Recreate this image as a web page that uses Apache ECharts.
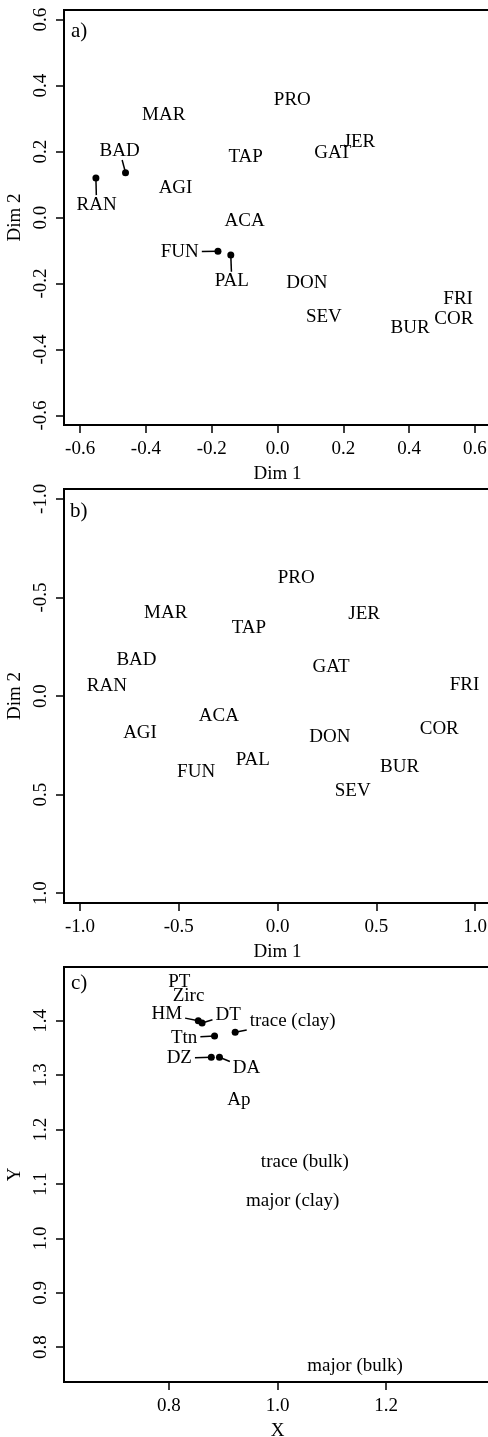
<!DOCTYPE html>
<html>
<head>
<meta charset="utf-8">
<script src="https://cdn.jsdelivr.net/npm/echarts@6/dist/echarts.min.js"></script>
<style>
  html, body { margin: 0; padding: 0; background: #fff; }
  #chart { width: 488px; height: 1437px; }
</style>
</head>
<body>
<div id="chart"></div>
<script>
// panel a) - points, labels moved away from the dot get lab x/y (null = label sits on the point)
const aNames = ['MAR', 'PRO', 'BAD', 'RAN', 'TAP', 'GAT', 'JER', 'AGI', 'ACA', 'FUN', 'PAL', 'DON', 'SEV', 'BUR', 'COR', 'FRI']
const aX = [-0.346, 0.045, -0.462, -0.552, -0.097, 0.168, 0.249, -0.310, -0.100, -0.181, -0.142, 0.089, 0.141, 0.403, 0.536, 0.549]
const aY = [0.312, 0.355, 0.136, 0.120, 0.182, 0.194, 0.228, 0.088, -0.011, -0.102, -0.114, -0.198, -0.301, -0.334, -0.307, -0.248]
const aLabX = [null, null, -0.480, -0.550, null, null, null, null, null, -0.297, -0.139, null, null, null, null, null]
const aLabY = [null, null, 0.203, 0.039, null, null, null, null, null, -0.104, -0.193, null, null, null, null, null]
const aTicks = [-0.6, -0.4, -0.2, 0, 0.2, 0.4, 0.6]

// panel b)
const bNames = ['PRO', 'MAR', 'JER', 'TAP', 'BAD', 'GAT', 'RAN', 'FRI', 'ACA', 'AGI', 'COR', 'DON', 'PAL', 'BUR', 'FUN', 'SEV']
const bX = [0.095, -0.566, 0.439, -0.145, -0.714, 0.271, -0.864, 0.947, -0.297, -0.696, 0.819, 0.265, -0.125, 0.618, -0.412, 0.381]
const bY = [-0.600, -0.419, -0.414, -0.343, -0.183, -0.149, -0.051, -0.056, 0.099, 0.186, 0.169, 0.206, 0.325, 0.358, 0.384, 0.482]
const bLabX = bNames.map(() => null)
const bLabY = bNames.map(() => null)
const bTicks = [-1, -0.5, 0, 0.5, 1]

// panel c)
const cNames = ['PT', 'Zirc', 'HM', 'DT', 'trace (clay)', 'Ttn', 'DZ', 'DA', 'Ap', 'trace (bulk)', 'major (clay)', 'major (bulk)']
const cX = [0.819, 0.836, 0.854, 0.861, 0.922, 0.884, 0.878, 0.893, 0.929, 1.0505, 1.028, 1.143]
const cY = [1.472, 1.446, 1.400, 1.396, 1.379, 1.372, 1.333, 1.333, 1.255, 1.140, 1.069, 0.766]
const cLabX = [null, null, 0.796, 0.909, 1.028, 0.828, 0.819, 0.943, null, null, null, null]
const cLabY = [null, null, 1.412, 1.411, 1.400, 1.369, 1.331, 1.313, null, null, null, null]
const cXTicks = [0.8, 1.0, 1.2]
const cYTicks = [0.8, 0.9, 1.0, 1.1, 1.2, 1.3, 1.4]

const FONT = '"Liberation Serif", "Times New Roman", serif'
const FS = 19
const ctx = document.createElement('canvas').getContext('2d')
ctx.font = FS + 'px ' + FONT

function xAxis(gi, min, max, ticks, name) {
  return {
    type: 'value', gridIndex: gi, min, max, name,
    nameLocation: 'middle', nameGap: 40,
    nameTextStyle: { fontFamily: FONT, fontSize: FS, color: '#000' },
    axisLine: { show: true, onZero: false, lineStyle: { color: '#000', width: 2 } },
    axisTick: { show: true, customValues: ticks, length: 8, lineStyle: { color: '#000', width: 1.5 } },
    axisLabel: { customValues: ticks, formatter: v => v.toFixed(1), margin: 15, fontFamily: FONT, fontSize: FS, color: '#000' },
    splitLine: { show: false },
  }
}

function yAxis(gi, min, max, ticks, name, inverse) {
  return {
    type: 'value', gridIndex: gi, min, max, name, inverse: !!inverse,
    nameLocation: 'middle', nameGap: 33,
    nameTextStyle: { fontFamily: FONT, fontSize: FS, color: '#000' },
    axisLine: { show: true, onZero: false, lineStyle: { color: '#000', width: 2 } },
    axisTick: { show: true, customValues: ticks, length: 8, lineStyle: { color: '#000', width: 1.5 } },
    axisLabel: { customValues: ticks, formatter: v => v.toFixed(1), rotate: 90, margin: 13, fontFamily: FONT, fontSize: FS, color: '#000' },
    splitLine: { show: false },
  }
}

function textStyle(t) {
  return { text: t, fill: '#000', font: FS + 'px ' + FONT, align: 'center', verticalAlign: 'middle' }
}

// text labels, with a dot + leader line when the label was moved off its point
function labelSeries(gi, names, xs, ys, lxs, lys) {
  return {
    type: 'custom', xAxisIndex: gi, yAxisIndex: gi, clip: false, silent: true,
    data: xs.map((x, i) => [x, ys[i]]),
    renderItem(params, api) {
      const i = params.dataIndex
      const p = api.coord([xs[i], ys[i]])
      if (lxs[i] == null)
        return { type: 'text', x: p[0], y: p[1], style: textStyle(names[i]) }
      const l = api.coord([lxs[i], lys[i]])
      const hw = ctx.measureText(names[i]).width / 2 + 3
      const hh = 9.5
      const dx = p[0] - l[0]
      const dy = p[1] - l[1]
      const s = Math.min(dx ? hw / Math.abs(dx) : Infinity, dy ? hh / Math.abs(dy) : Infinity)
      const e = [l[0] + dx * s, l[1] + dy * s]
      return {
        type: 'group',
        children: [
          { type: 'line', shape: { x1: p[0], y1: p[1], x2: e[0], y2: e[1] }, style: { stroke: '#000', lineWidth: 1.5 } },
          { type: 'circle', shape: { cx: p[0], cy: p[1], r: 3.5 }, style: { fill: '#000' } },
          { type: 'text', x: l[0], y: l[1], style: textStyle(names[i]) },
        ],
      }
    },
  }
}

// grid runs past the right edge of the page, as in the original
const gridBase = {
  left: 64, width: 427, show: true, borderColor: '#000', borderWidth: 2,
  backgroundColor: 'transparent', outerBoundsMode: 'none', containLabel: false,
}

const option = {
  animation: false,
  grid: [
    { ...gridBase, top: 10, height: 415 },
    { ...gridBase, top: 489, height: 414 },
    { ...gridBase, top: 967, height: 415 },
  ],
  xAxis: [
    xAxis(0, -0.649, 0.649, aTicks, 'Dim 1'),
    xAxis(1, -1.081, 1.081, bTicks, 'Dim 1'),
    xAxis(2, 0.6065, 1.3935, cXTicks, 'X'),
  ],
  yAxis: [
    yAxis(0, -0.629, 0.629, aTicks, 'Dim 2'),
    yAxis(1, -1.05, 1.05, bTicks, 'Dim 2', true),
    yAxis(2, 0.736, 1.499, cYTicks, 'Y'),
  ],
  graphic: [
    { type: 'text', left: 71, top: 21, style: { text: 'a)', fill: '#000', font: '21px ' + FONT } },
    { type: 'text', left: 70, top: 501, style: { text: 'b)', fill: '#000', font: '21px ' + FONT } },
    { type: 'text', left: 71, top: 973, style: { text: 'c)', fill: '#000', font: '21px ' + FONT } },
  ],
  series: [
    labelSeries(0, aNames, aX, aY, aLabX, aLabY),
    labelSeries(1, bNames, bX, bY, bLabX, bLabY),
    labelSeries(2, cNames, cX, cY, cLabX, cLabY),
  ],
}

const chart = echarts.init(document.getElementById('chart'))
chart.setOption(option)
</script>
</body>
</html>
